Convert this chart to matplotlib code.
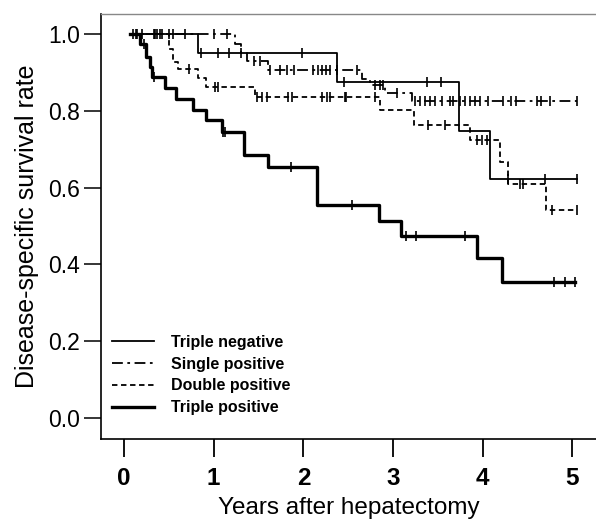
import numpy as np
import matplotlib
matplotlib.use("Agg")
import matplotlib.pyplot as plt

plt.rcParams['font.family'] = ['Liberation Sans', 'DejaVu Sans']

# Kaplan-Meier step data per group: event times, survival after each event, censor times
start_time = 0.07

tn_times = [0.82, 2.37, 3.74, 4.08]
tn_surv = [0.950, 0.875, 0.748, 0.622]
tn_cens = [0.10, 0.15, 0.20, 0.33, 0.37, 0.42, 0.50, 0.68, 0.86, 1.05, 1.17,
           1.30, 1.98, 2.45, 3.38, 3.53, 4.28, 4.69, 5.05]

sp_times = [1.24, 1.30, 1.37, 1.61, 2.65, 2.74, 2.91, 3.21]
sp_surv = [0.975, 0.950, 0.930, 0.905, 0.883, 0.866, 0.846, 0.826]
sp_cens = [0.13, 0.35, 0.40, 0.55, 1.00, 1.15, 1.45, 1.52, 1.63, 1.74, 1.82,
           1.89, 2.11, 2.16, 2.21, 2.25, 2.30, 2.37, 2.60, 2.80, 2.85, 2.89,
           3.04, 3.24, 3.30, 3.36, 3.41, 3.47, 3.55, 3.63, 3.67, 3.75, 3.80,
           3.86, 3.91, 3.97, 4.06, 4.23, 4.32, 4.37, 4.60, 4.65, 4.75, 5.05]

dp_times = [0.50, 0.55, 0.60, 0.83, 0.91, 1.46, 2.85, 3.23, 3.86, 4.19, 4.28, 4.71]
dp_surv = [0.960, 0.927, 0.910, 0.885, 0.862, 0.836, 0.802, 0.763, 0.724,
           0.667, 0.610, 0.542]
dp_cens = [0.73, 1.01, 1.05, 1.48, 1.54, 1.59, 1.83, 1.87, 2.21, 2.26, 2.30,
           2.46, 2.48, 2.80, 3.39, 3.58, 3.93, 3.99, 4.05, 4.41, 4.45, 4.77, 5.05]

tp_times = [0.18, 0.25, 0.29, 0.31, 0.46, 0.58, 0.77, 0.91, 1.09, 1.34, 1.61,
            2.15, 2.84, 3.09, 3.93, 4.21]
tp_surv = [0.973, 0.940, 0.914, 0.888, 0.860, 0.831, 0.802, 0.776, 0.745,
           0.685, 0.654, 0.555, 0.513, 0.474, 0.417, 0.354]
tp_cens = [0.22, 0.33, 1.10, 1.13, 1.86, 2.54, 3.14, 3.26, 3.80, 4.79, 4.92, 5.03]

labels = ['Triple negative', 'Single positive', 'Double positive', 'Triple positive']

fig = plt.figure(figsize=(5.96, 5.27), dpi=100)
ax = fig.add_axes([101 / 596, 88 / 527, 1 - 101 / 596, (439 - 14) / 527])


def km_plot(times, surv, cens, label, ls, lw):
    end = max(cens[-1], times[-1])
    t = np.array([start_time] + list(times) + [end])
    s = np.array([1.0] + list(surv) + [surv[-1]])
    ax.step(t, s, where='post', color='black', linestyle=ls, linewidth=lw,
            label=label)
    # censor ticks sit on the curve value at that time
    idx = np.searchsorted(t, cens, side='right') - 1
    ax.plot(cens, s[idx], linestyle='none', marker='|', markersize=7.5,
            markeredgewidth=1.2, color='black')


km_plot(tn_times, tn_surv, tn_cens, labels[0], '-', 1.3)
km_plot(sp_times, sp_surv, sp_cens, labels[1], (0, (6, 2.5, 1.5, 2.5)), 1.3)
km_plot(dp_times, dp_surv, dp_cens, labels[2], (0, (3, 2)), 1.3)
km_plot(tp_times, tp_surv, tp_cens, labels[3], '-', 2.4)

ax.set_xlim(-0.256, 5.262)
ax.set_ylim(-0.055, 1.052)
ax.set_xticks([0, 1, 2, 3, 4, 5])
ax.set_yticks([0.0, 0.2, 0.4, 0.6, 0.8, 1.0])
ax.set_yticklabels(['0.0', '0.2', '0.4', '0.6', '0.8', '1.0'])

ax.tick_params(axis='y', direction='out', length=12, width=1.1, pad=3,
               labelsize=16.5)
ax.tick_params(axis='x', direction='out', length=13, width=1.3, pad=7,
               labelsize=17.5)
for lab in ax.get_xticklabels():
    lab.set_fontweight('bold')

ax.spines['right'].set_visible(False)
ax.spines['top'].set_color('#888888')
ax.spines['top'].set_linestyle((0, (1, 1)))
ax.spines['top'].set_linewidth(1.0)
ax.spines['left'].set_linewidth(1.2)
ax.spines['bottom'].set_linewidth(1.2)

ax.set_xlabel('Years after hepatectomy', fontsize=17.5, labelpad=5)
ax.set_ylabel('Disease-specific survival rate', fontsize=18, labelpad=7)

ax.legend(loc='upper left', bbox_to_anchor=(112 / 596, 1 - 335 / 527),
          bbox_transform=fig.transFigure, frameon=False, borderaxespad=0,
          borderpad=0, handlelength=2.6, handletextpad=1.1, labelspacing=0.42,
          prop={'weight': 'bold', 'size': 11.5})

fig.savefig('out.png', dpi=100)
